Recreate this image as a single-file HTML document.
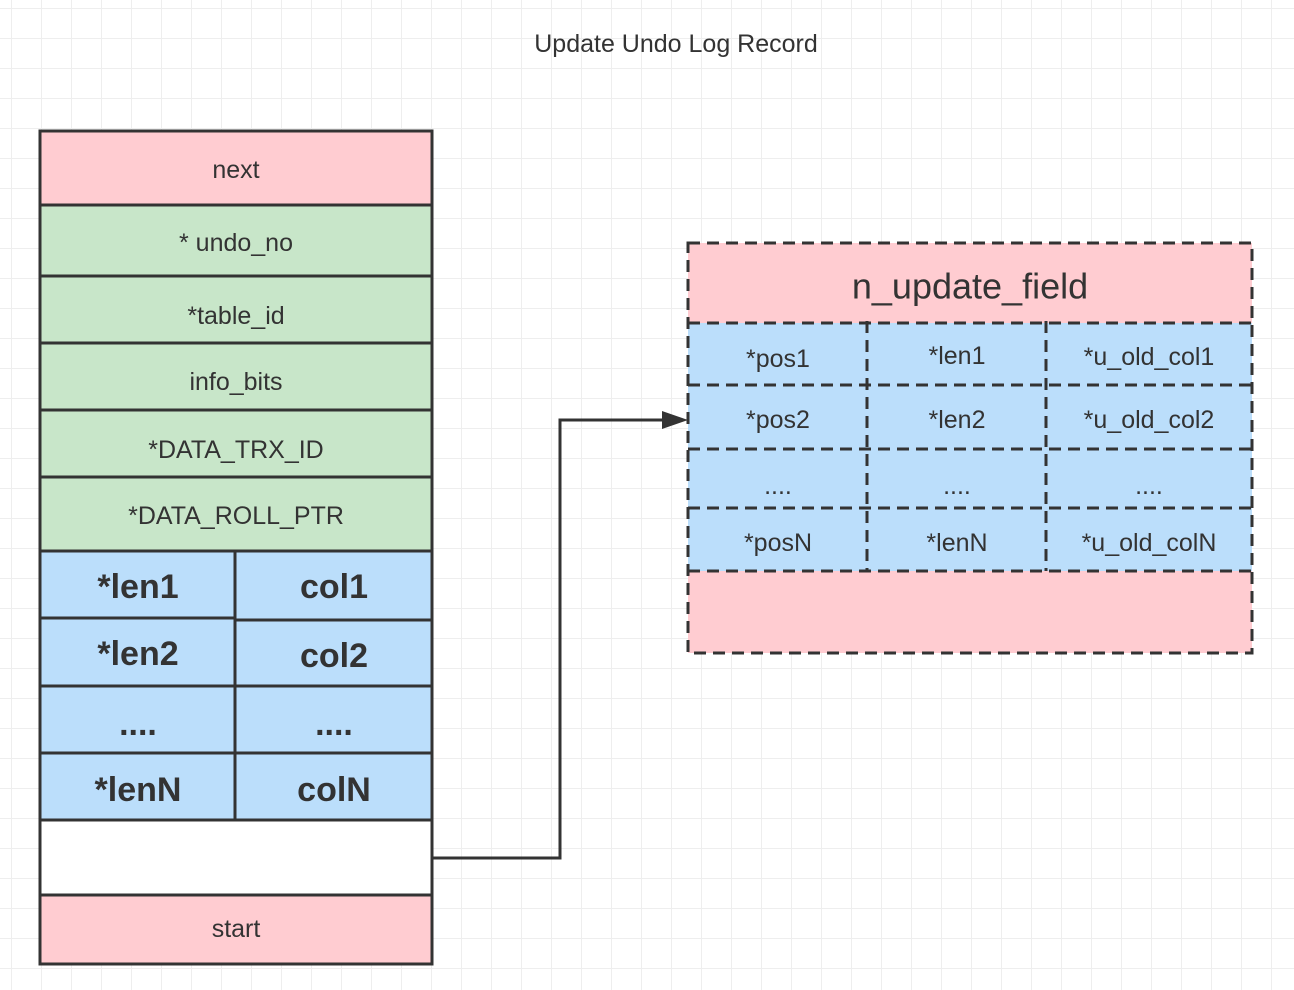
<!DOCTYPE html>
<html><head><meta charset="utf-8"><style>
html,body{margin:0;padding:0;background:#fff}
svg{display:block}
text{font-family:"Source Sans Pro","Liberation Sans",sans-serif;fill:#333;text-anchor:middle;dominant-baseline:central}
</style></head><body>
<svg width="1294" height="990" viewBox="0 0 1294 990" xmlns="http://www.w3.org/2000/svg">
<defs>
<pattern id="g" width="30" height="30" patternUnits="userSpaceOnUse" x="11" y="8">
<path d="M0 0H30M0 0V30" stroke="#eeeeee" stroke-width="2" fill="none"/>
</pattern>
</defs>
<rect width="1294" height="990" fill="url(#g)"/>
<text x="676" y="44" font-size="25">Update Undo Log Record</text>

<g stroke="#333" stroke-width="3">
<rect x="40" y="131" width="392" height="74" fill="#ffccd1"/>
<rect x="40" y="205" width="392" height="71" fill="#c8e6c9"/>
<rect x="40" y="276" width="392" height="67" fill="#c8e6c9"/>
<rect x="40" y="343" width="392" height="67" fill="#c8e6c9"/>
<rect x="40" y="410" width="392" height="67" fill="#c8e6c9"/>
<rect x="40" y="477" width="392" height="74" fill="#c8e6c9"/>
<rect x="40" y="551" width="195" height="67" fill="#bbdefb"/>
<rect x="235" y="551" width="197" height="69" fill="#bbdefb"/>
<rect x="40" y="618" width="195" height="68" fill="#bbdefb"/>
<rect x="235" y="620" width="197" height="66" fill="#bbdefb"/>
<rect x="40" y="686" width="195" height="67" fill="#bbdefb"/>
<rect x="235" y="686" width="197" height="67" fill="#bbdefb"/>
<rect x="40" y="753" width="195" height="67" fill="#bbdefb"/>
<rect x="235" y="753" width="197" height="67" fill="#bbdefb"/>
<rect x="40" y="820" width="392" height="75" fill="#fff"/>
<rect x="40" y="895" width="392" height="69" fill="#ffccd1"/>
</g>
<g font-size="25">
<text x="236" y="170">next</text>
<text x="236" y="243">* undo_no</text>
<text x="236" y="316">*table_id</text>
<text x="236" y="382">info_bits</text>
<text x="236" y="450">*DATA_TRX_ID</text>
<text x="236" y="516">*DATA_ROLL_PTR</text>
<text x="236" y="929">start</text>
</g>
<g font-size="34" font-weight="bold">
<text x="138" y="587">*len1</text>
<text x="334" y="587">col1</text>
<text x="138" y="654">*len2</text>
<text x="334" y="656">col2</text>
<text x="138" y="724">....</text>
<text x="334" y="724">....</text>
<text x="138" y="790">*lenN</text>
<text x="334" y="790">colN</text>
</g>

<path d="M432 858H560V420H666" stroke="#333" stroke-width="3" fill="none"/>
<path d="M688 420L662 411V429Z" fill="#333"/>

<rect x="688" y="243" width="564" height="410" fill="#ffccd1"/>
<rect x="688" y="323" width="564" height="248" fill="#bbdefb"/>
<g stroke="#333" stroke-width="3" stroke-dasharray="12 7" fill="none">
<rect x="688" y="243" width="564" height="410"/>
<path d="M688 323H1252M688 385H1252M688 449H1252M688 508H1252M688 571H1252"/>
<path d="M867 321V571M1046 321V571"/>
</g>
<text x="970" y="286" font-size="36">n_update_field</text>
<g font-size="25">
<text x="778" y="359">*pos1</text>
<text x="957" y="356">*len1</text>
<text x="1149" y="357">*u_old_col1</text>
<text x="778" y="420">*pos2</text>
<text x="957" y="420">*len2</text>
<text x="1149" y="420">*u_old_col2</text>
<text x="778" y="486">....</text>
<text x="957" y="486">....</text>
<text x="1149" y="486">....</text>
<text x="778" y="543">*posN</text>
<text x="957" y="543">*lenN</text>
<text x="1149" y="543">*u_old_colN</text>
</g>
</svg>
</body></html>
